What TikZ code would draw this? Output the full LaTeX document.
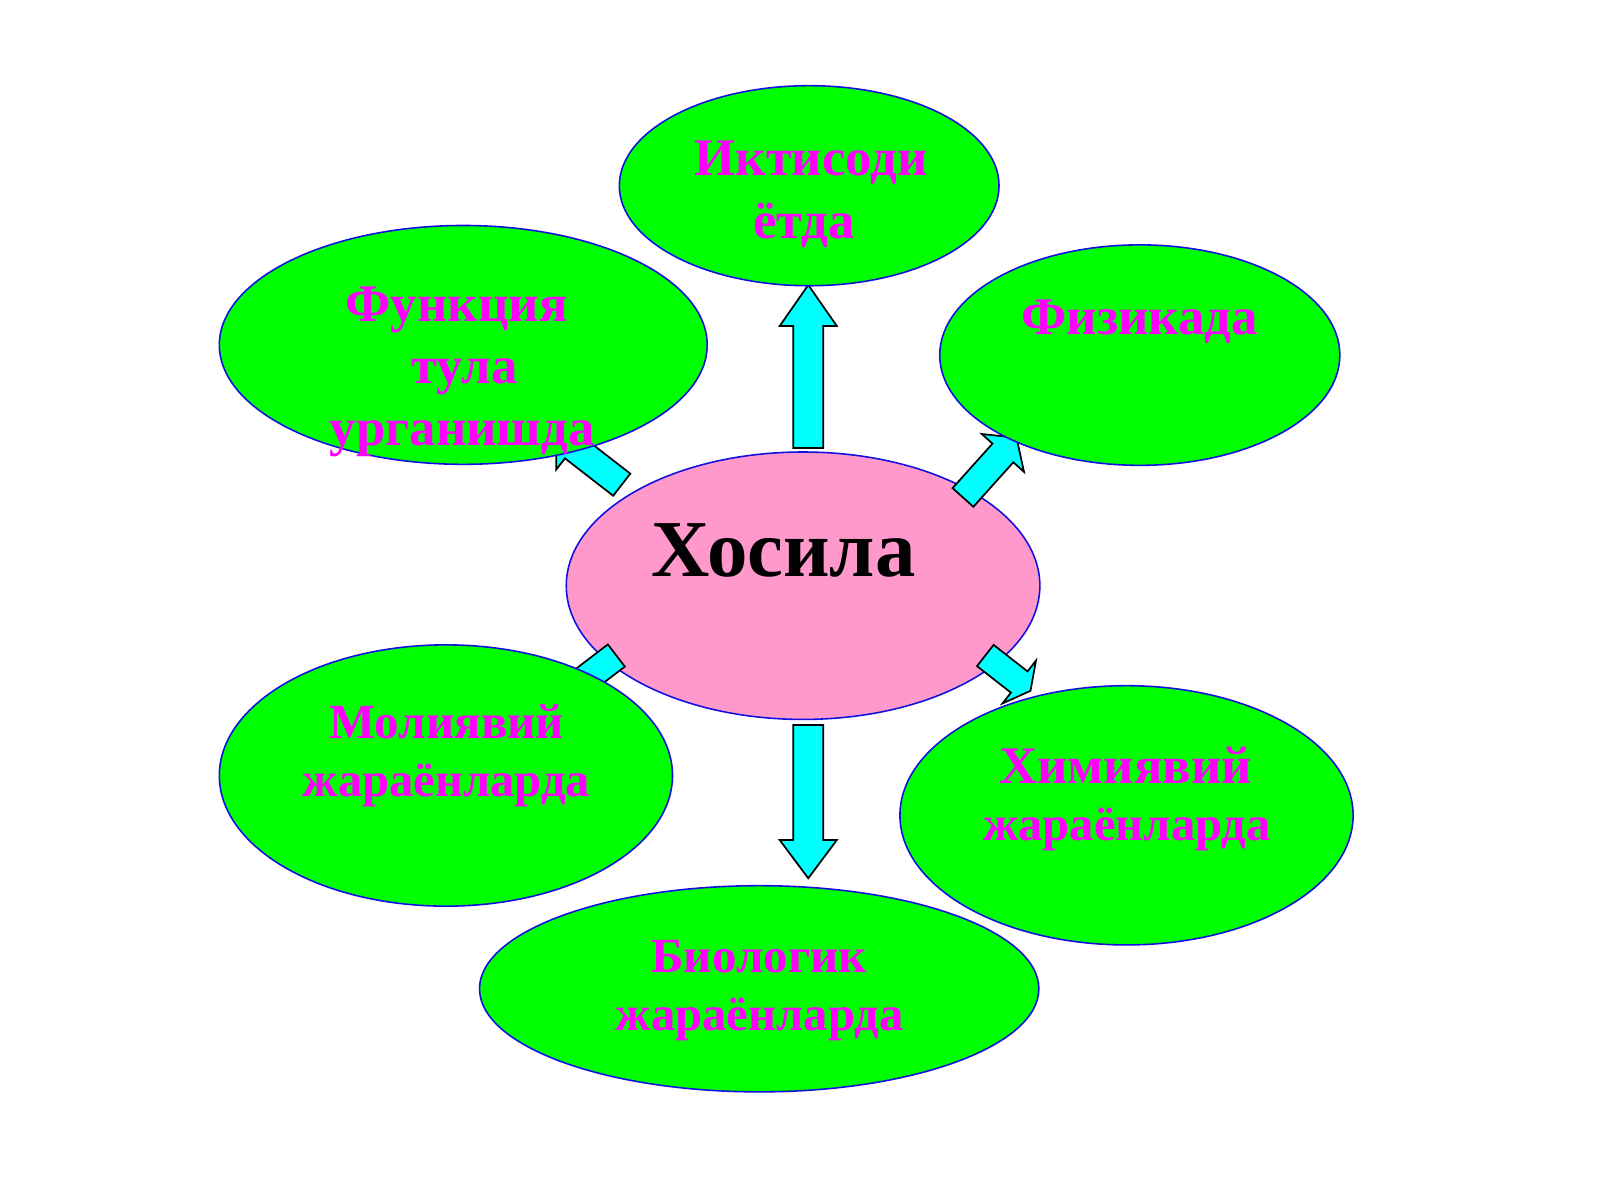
\documentclass[tikz,border=0pt]{standalone}
\usepackage{fontspec}
\setmainfont{Liberation Serif}
\usetikzlibrary{shapes.geometric}
\definecolor{bubgreen}{HTML}{00FF00}
\definecolor{hospink}{HTML}{FF99CC}
\definecolor{arrcyan}{HTML}{00FFFF}
\definecolor{txtmag}{HTML}{FF00FF}
\definecolor{rimblue}{HTML}{1010E0}
% block arrow: total length, body length, half body width, half head width
\newcommand{\blockarrowshape}[4]{%
  \draw[arrowst] (0,-#3) -- (#2,-#3) -- (#2,-#4) -- (#1,0) -- (#2,#4) -- (#2,#3) -- (0,#3) -- cycle;}
\begin{document}
\begin{tikzpicture}[x=0.025cm,y=-0.025cm,
  bub/.style={ellipse, draw=rimblue, line width=1.1pt, fill=bubgreen, inner sep=0pt, outer sep=0pt},
  hos/.style={ellipse, draw=rimblue, line width=1.1pt, fill=hospink, inner sep=0pt, outer sep=0pt},
  lbl/.style={anchor=base, text=txtmag, font=\bfseries\fontsize{36.8}{44}\selectfont, inner sep=0pt},
  lblsm/.style={lbl, font=\bfseries\fontsize{34.2}{41}\selectfont},
  lblxs/.style={lbl, font=\bfseries\fontsize{33.9}{41}\selectfont},
  biglbl/.style={anchor=base, text=black, font=\bfseries\fontsize{56.3}{66}\selectfont, inner sep=0pt},
  arrowst/.style={draw=black, line width=1.2pt, fill=arrcyan, line join=miter}
]
\fill[white] (0,0) rectangle (1568,1176);
\useasboundingbox (0,0) rectangle (1568,1176);

% centre
\node[hos, minimum width=11.6cm, minimum height=6.55cm] (hosila) at (787,574) {};
\node[biglbl] (thosila) at (767.7,565) {Хосила};

% block arrows
\begin{scope}[shift={(792.1,439)},rotate=90]
  \blockarrowshape{159.7}{119.5}{14.7}{28}
\end{scope}
\begin{scope}[shift={(792.1,710.5)},rotate=-90]
  \blockarrowshape{150.2}{112.7}{14.7}{28}
\end{scope}
\begin{scope}[shift={(609.3,475)},rotate=142.2]
  \blockarrowshape{80.8}{59.8}{13.7}{27.8}
\end{scope}
\begin{scope}[shift={(943.7,487.5)},rotate=48.1]
  \blockarrowshape{78.6}{58.6}{13.7}{27.8}
\end{scope}
\begin{scope}[shift={(604,642.4)},rotate=217.4]
  \blockarrowshape{78.6}{58.6}{13.7}{27.8}
\end{scope}
\begin{scope}[shift={(965.6,642.4)},rotate=-38]
  \blockarrowshape{56.2}{42.2}{13.2}{26.6}
\end{scope}

% outer bubbles
\node[bub, minimum width=9.3cm, minimum height=4.9cm] (iqt) at (793,182) {};
\node[bub, minimum width=11.95cm, minimum height=5.85cm] (fun) at (454,338) {};
\node[bub, minimum width=9.8cm, minimum height=5.4cm] (fiz) at (1117,348) {};
\node[bub, minimum width=11.1cm, minimum height=6.4cm] (mol) at (437,760) {};
\node[bub, minimum width=11.1cm, minimum height=6.35cm] (kim) at (1104,799) {};
\node[bub, minimum width=13.7cm, minimum height=5.05cm] (bio) at (744,969) {};

% labels
\node[lbl] (t1a) at (795,171.5) {Иктисоди};
\node[lbl] (t1b) at (788,233.5) {ётда};
\node[lbl] (t2a) at (447.5,315) {Функция};
\node[lbl] (t2b) at (455,376) {тула};
\node[lbl] (t2c) at (453,437) {урганишда};
\node[lbl] (t3a) at (1117,328) {Физикада};
\node[lblsm] (t4a) at (437.7,723.6) {Молиявий};
\node[lblxs] (t4b) at (437.6,780.8) {жараёнларда};
\node[lbl] (t5a) at (1103.3,767.7) {Химиявий};
\node[lblxs] (t5b) at (1104.5,823.2) {жараёнларда};
\node[lblsm] (t6a) at (744,953) {Биологик};
\node[lblxs] (t6b) at (744.5,1010) {жараёнларда};
\end{tikzpicture}
\end{document}
